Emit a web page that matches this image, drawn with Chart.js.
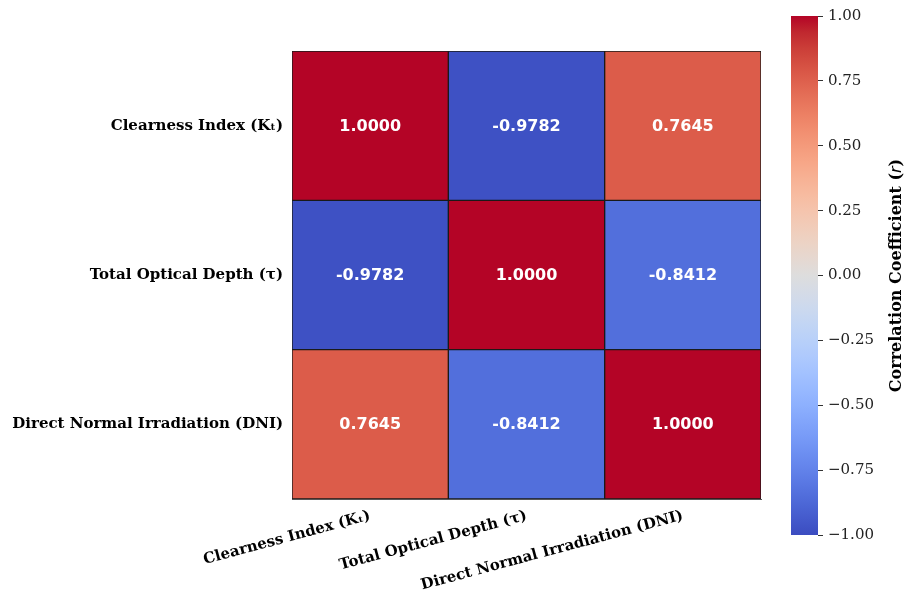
<!DOCTYPE html>
<html>
<head>
<meta charset="utf-8">
<script src="https://cdn.jsdelivr.net/npm/chart.js@4.4.1/dist/chart.umd.min.js"></script>
<style>
  html, body { margin: 0; padding: 0; background: #ffffff; }
  #wrap { position: relative; width: 906px; height: 592px; }
  #heat { position: absolute; left: 0; top: 0; }
  #cbar { position: absolute; left: 780px; top: 0; }
</style>
</head>
<body>
<div id="wrap">
  <canvas id="heat" width="780" height="592"></canvas>
  <canvas id="cbar" width="126" height="592"></canvas>
</div>
<script>
// Variables compared in the correlation matrix (rows and columns share them)
const variables = ['Clearness Index (Kₜ)', 'Total Optical Depth (τ)', 'Direct Normal Irradiation (DNI)'];

// Pearson correlation coefficients, one array per row
const rowClearness = [1.0000, -0.9782, 0.7645];
const rowOpticalDepth = [-0.9782, 1.0000, -0.8412];
const rowDNI = [0.7645, -0.8412, 1.0000];
const matrixRows = [rowClearness, rowOpticalDepth, rowDNI];

// Colour bar range and tick values
const colorbarRange = [-1, 1];
const colorbarTicks = [-1.00, -0.75, -0.50, -0.25, 0.00, 0.25, 0.50, 0.75, 1.00];

// Diverging "coolwarm" palette sampled at 33 evenly spaced stops
const COOLWARM = [
  [59,76,192],[68,90,204],[77,104,215],[87,117,225],[98,130,234],[108,142,241],
  [119,154,247],[130,165,251],[141,176,254],[152,185,255],[163,194,255],[174,201,253],
  [184,208,249],[194,213,244],[204,217,238],[213,219,230],[221,221,221],[229,216,209],
  [236,211,197],[241,204,185],[245,196,173],[247,187,160],[247,177,148],[247,166,135],
  [244,154,123],[241,141,111],[236,127,99],[229,112,88],[222,96,77],[213,80,66],
  [203,62,56],[192,40,47],[180,4,38]
];

function coolwarm(v) {
  const t = Math.min(1, Math.max(0, (v - colorbarRange[0]) / (colorbarRange[1] - colorbarRange[0])));
  const pos = t * (COOLWARM.length - 1);
  const i = Math.min(COOLWARM.length - 2, Math.floor(pos));
  const f = pos - i;
  const a = COOLWARM[i], b = COOLWARM[i + 1];
  const c = a.map((x, k) => Math.round(x + (b[k] - x) * f));
  return `rgb(${c[0]},${c[1]},${c[2]})`;
}

const SERIF = "'DejaVu Serif', 'Liberation Serif', serif";
const SANS = "'DejaVu Sans', 'Liberation Sans', sans-serif";

// Each row is a dataset of floating bars spanning [row, row + 1] on the reversed y scale
const datasets = matrixRows.map((row, r) => ({
  label: variables[r],
  data: row.map(() => [r, r + 1]),
  values: row,
  backgroundColor: row.map(v => coolwarm(v)),
  borderColor: '#1a1a1a',
  borderWidth: 1,
  borderSkipped: false,
  grouped: false,
  barPercentage: 1,
  categoryPercentage: 1
}));

// Writes the coefficient in the middle of every cell
const cellLabels = {
  id: 'cellLabels',
  afterDatasetsDraw(chart) {
    const ctx = chart.ctx;
    ctx.save();
    ctx.fillStyle = '#ffffff';
    ctx.font = `bold 16px ${SANS}`;
    ctx.textAlign = 'center';
    ctx.textBaseline = 'middle';
    chart.data.datasets.forEach((ds, di) => {
      chart.getDatasetMeta(di).data.forEach((el, i) => {
        const p = el.getCenterPoint();
        ctx.fillText(ds.values[i].toFixed(4), p.x, p.y + 1);
      });
    });
    ctx.restore();
  }
};

new Chart(document.getElementById('heat'), {
  type: 'bar',
  data: { labels: variables, datasets },
  options: {
    responsive: false,
    animation: false,
    devicePixelRatio: 1,
    layout: { padding: { top: 51, right: 19, bottom: 0, left: 0 } },
    plugins: { legend: { display: false }, tooltip: { enabled: false } },
    scales: {
      x: {
        grid: { display: false, drawTicks: true, tickLength: 5, tickColor: '#333' },
        border: { display: true, color: '#555' },
        ticks: {
          minRotation: 15, maxRotation: 15, autoSkip: false, padding: 3,
          color: '#000', font: { family: SERIF, size: 15, weight: 'bold' }
        },
        afterFit(scale) { scale.height = 93; }
      },
      y: {
        type: 'linear', min: 0, max: 3, reverse: true,
        grid: { display: false, drawTicks: true, tickLength: 5, tickColor: '#333' },
        border: { display: true, color: '#555' },
        afterBuildTicks(scale) { scale.ticks = variables.map((_, i) => ({ value: i + 0.5 })); },
        ticks: {
          autoSkip: false, padding: 4, color: '#000',
          font: { family: SERIF, size: 15, weight: 'bold' },
          callback: (v) => variables[Math.floor(v)]
        },
        afterFit(scale) { scale.width = 292; }
      }
    }
  },
  plugins: [cellLabels]
});

// Vertical axis title of the colour bar, reading bottom to top
const cbarTitle = {
  id: 'cbarTitle',
  afterDraw(chart) {
    const ctx = chart.ctx;
    const area = chart.chartArea;
    const parts = [
      { t: 'Correlation Coefficient (', f: `bold 16px ${SERIF}` },
      { t: 'r', f: `italic 16px ${SANS}` },
      { t: ')', f: `bold 16px ${SERIF}` }
    ];
    let total = 0;
    parts.forEach(p => { ctx.font = p.f; p.w = ctx.measureText(p.t).width; total += p.w; });
    ctx.save();
    ctx.translate(117, (area.top + area.bottom) / 2);
    ctx.rotate(-Math.PI / 2);
    ctx.fillStyle = '#000';
    ctx.textBaseline = 'middle';
    ctx.textAlign = 'left';
    let x = -total / 2;
    parts.forEach(p => { ctx.font = p.f; ctx.fillText(p.t, x, 0); x += p.w; });
    ctx.restore();
  }
};

new Chart(document.getElementById('cbar'), {
  type: 'bar',
  data: {
    labels: ['r'],
    datasets: [{
      data: [colorbarRange.slice()],
      backgroundColor(context) {
        const area = context.chart.chartArea;
        if (!area) return coolwarm(0);
        const g = context.chart.ctx.createLinearGradient(0, area.bottom, 0, area.top);
        COOLWARM.forEach((c, i) => g.addColorStop(i / (COOLWARM.length - 1), `rgb(${c[0]},${c[1]},${c[2]})`));
        return g;
      },
      borderWidth: 0,
      barPercentage: 1,
      categoryPercentage: 1
    }]
  },
  options: {
    responsive: false,
    animation: false,
    devicePixelRatio: 1,
    layout: { padding: { top: 16, right: 0, bottom: 57, left: 11 } },
    plugins: { legend: { display: false }, tooltip: { enabled: false } },
    scales: {
      x: { display: false },
      y: {
        position: 'right',
        min: colorbarRange[0], max: colorbarRange[1],
        grid: { drawOnChartArea: false, drawTicks: true, tickLength: 5, tickColor: '#333' },
        border: { display: false },
        afterBuildTicks(scale) { scale.ticks = colorbarTicks.map(v => ({ value: v })); },
        ticks: {
          padding: 5, color: '#222',
          font: { family: SERIF, size: 15 },
          callback: (v) => (v < 0 ? '\u2212' : '') + Math.abs(v).toFixed(2)
        },
        afterFit(scale) { scale.width = 88; }
      }
    }
  },
  plugins: [cbarTitle]
});
</script>
</body>
</html>
